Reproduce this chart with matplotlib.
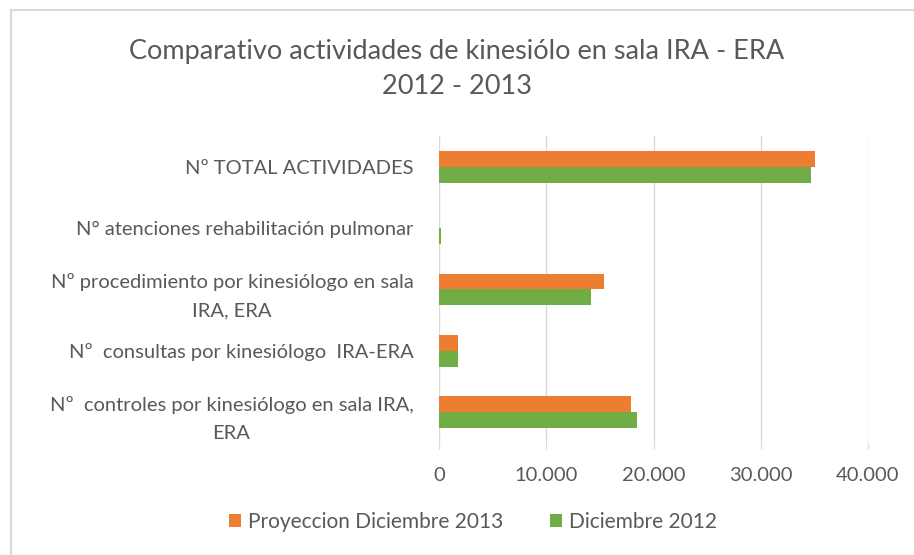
import numpy as np
import matplotlib
matplotlib.use("Agg")
import matplotlib.pyplot as plt
from matplotlib.ticker import FuncFormatter
from matplotlib.lines import Line2D

plt.rcParams['font.family'] = ['Lato', 'DejaVu Sans']

# categories, bottom to top
categories = [
    "Nº  controles por kinesiólogo en sala IRA,\nERA",
    "Nº  consultas por kinesiólogo  IRA-ERA",
    "Nº procedimiento por kinesiólogo en sala\nIRA, ERA",
    "N° atenciones rehabilitación pulmonar",
    "Nº TOTAL ACTIVIDADES",
]
proyeccion_2013 = [17900, 1740, 15400, 0, 35050]
diciembre_2012 = [18500, 1760, 14170, 150, 34700]
series_names = ["Proyeccion Diciembre 2013", "Diciembre 2012"]
x_ticks = [0, 10000, 20000, 30000, 40000]

orange = "#ED7D31"
green = "#70AD47"
grid_col = "#D9D9D9"
text_col = "#595959"

fig = plt.figure(figsize=(9.14, 5.55), dpi=100)
ax = fig.add_axes([439 / 914, 1 - 443 / 555, (868 - 439) / 914, (443 - 136) / 555])

y = np.arange(len(categories))
h = 0.26
ax.barh(y + h / 2, proyeccion_2013, height=h, color=orange, label=series_names[0], zorder=3)
ax.barh(y - h / 2, diciembre_2012, height=h, color=green, label=series_names[1], zorder=3)

ax.set_xlim(0, 40000)
ax.set_ylim(-0.5, len(categories) - 0.5)
ax.set_xticks(x_ticks)
ax.xaxis.set_major_formatter(FuncFormatter(lambda v, p: f"{int(v):,}".replace(",", ".")))
ax.set_yticks(y)
ax.set_yticklabels(categories)
ax.grid(axis="x", color=grid_col, linewidth=1, zorder=0)
for s in ax.spines.values():
    s.set_visible(False)
ax.tick_params(axis="y", length=0, pad=18.5, labelsize=14.5, labelcolor=text_col)
ax.tick_params(axis="x", length=4, color=grid_col, pad=13, labelsize=14.5, labelcolor=text_col)
for t in ax.get_yticklabels():
    t.set_multialignment("center")
    t.set_linespacing(1.75)

fig.text(0.5, 1 - 52 / 555, "Comparativo actividades de kinesiólo en sala IRA - ERA",
         ha="center", va="center", fontsize=19.5, color=text_col)
fig.text(0.5, 1 - 86 / 555, "2012 - 2013", ha="center", va="center", fontsize=19.5, color=text_col)

fig.legend(loc="center", bbox_to_anchor=(473 / 914, 1 - 522 / 555), ncol=2, frameon=False,
           handlelength=0.6, handleheight=0.6, handletextpad=0.35, columnspacing=2.2,
           fontsize=15, labelcolor=text_col)

# chart frame (top and left edges visible)
fig.add_artist(Line2D([11 / 914, 1], [1 - 9.5 / 555, 1 - 9.5 / 555], color=grid_col, linewidth=1.5))
fig.add_artist(Line2D([11 / 914, 11 / 914], [0, 1 - 9.5 / 555], color=grid_col, linewidth=1.5))

fig.savefig("out.png", dpi=100)
